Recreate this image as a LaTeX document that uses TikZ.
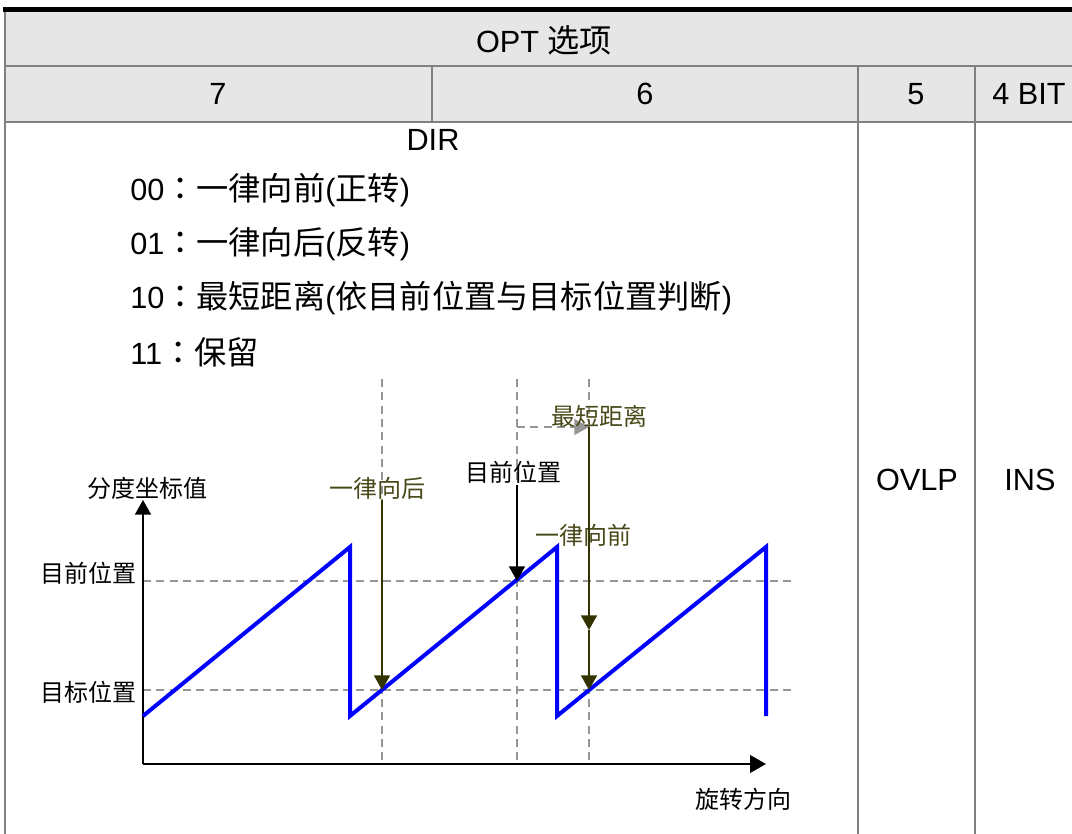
\documentclass[tikz,border=0pt]{standalone}
\usepackage{fontspec}
\setmainfont{Liberation Sans}
\newfontfamily\cjk{Noto Sans CJK SC}
\newfontfamily\cjkb[Scale=1.05]{Noto Sans CJK SC}
\newfontfamily\cjkc[Scale=1.05]{Noto Sans CJK TC}
\newcommand{\fwcolon}{{\cjkc ：}}
\usetikzlibrary{arrows.meta}
\definecolor{hdrgray}{RGB}{230,230,230}
\definecolor{gridgray}{RGB}{128,128,128}
\definecolor{dashgray}{RGB}{150,150,150}
\definecolor{olivetext}{RGB}{72,72,24}
\definecolor{olivearrow}{RGB}{51,51,0}
\definecolor{wave}{RGB}{0,0,255}
\tikzset{
  tabtext/.style={font=\fontsize{23}{27}\selectfont, inner sep=0pt},
  lbl/.style={font=\cjk\fontsize{18}{21}\selectfont, inner sep=0pt},
  olbl/.style={lbl, text=olivetext},
  gridline/.style={draw=gridgray, line width=1.1pt},
  guide/.style={draw=dashgray, line width=1.1pt, dash pattern=on 6pt off 4pt},
  oarrow/.style={draw=olivearrow, line width=1.3pt, -{Triangle[width=12pt,length=11pt]}},
  barrow/.style={draw=black, line width=1.3pt, -{Triangle[width=12pt,length=11pt]}},
}
\begin{document}
\begin{tikzpicture}[x=0.75pt,y=-0.75pt]
\useasboundingbox (0,0) rectangle (1072,834);
% table
\fill[hdrgray] (5,12) rectangle (1072,122);
\draw[gridline] (5,66) -- (1072,66);
\draw[gridline] (5,122) -- (1072,122);
\draw[gridline] (5,12) -- (5,834);
\draw[gridline] (432,66) -- (432,122);
\draw[gridline] (858,66) -- (858,834);
\draw[gridline] (975,66) -- (975,834);
\draw[line width=3.8pt] (3,9.5) -- (1072,9.5);
\node[tabtext] (opt) at (544,40) {OPT {\cjkb 选项}};
\node[tabtext] (b7) at (218,94) {7};
\node[tabtext] (b6) at (645,94) {6};
\node[tabtext] (b5) at (916,94) {5};
\node[tabtext] (b4) at (1029,94) {4 BIT};
\node[tabtext] (dir) at (433,140) {DIR};
\node[tabtext,anchor=west] (l0) at (130,190) {00\fwcolon{\cjkb 一律向前}({\cjkb 正转})};
\node[tabtext,anchor=west] (l1) at (130,244) {01\fwcolon{\cjkb 一律向后}({\cjkb 反转})};
\node[tabtext,anchor=west] (l2) at (130,298) {10\fwcolon{\cjkb 最短距离}({\cjkb 依目前位置与目标位置判断})};
\node[tabtext,anchor=west] (l3) at (130,352) {11\fwcolon{\cjkb 保留}};
\node[tabtext] (ovlp) at (917,480) {OVLP};
\node[tabtext] (ins) at (1030,480) {INS};
% diagram coordinates
\coordinate (O) at (143,764);
\coordinate (Ytip) at (143,500);
\coordinate (Xtip) at (766,764);
% guides
\draw[guide] (143,581) -- (792,581);
\draw[guide] (143,690) -- (792,690);
\draw[guide] (382,379) -- (382,764);
\draw[guide] (517,379) -- (517,764);
\draw[guide] (589,379) -- (589,764);
\coordinate (sA) at (517,427);
\coordinate (sB) at (589,427);
\draw[guide, -{Triangle[width=12pt,length=11pt]}, dashgray] (sA) -- (sB);
% axes
\draw[line width=1.4pt, -{Triangle[width=12pt,length=11pt]}] (O) -- (Ytip);
\draw[line width=2.2pt, -{Triangle[width=13pt,length=12pt]}] (O) -- (Xtip);
% wave
\draw[wave, line width=3pt, line join=miter] (143,716) -- (350,547) -- (350,716) -- (557,547) -- (557,716) -- (766,547) -- (766,716);
% labels
\node[lbl] (yl) at (147,488) {分度坐标值};
\node[lbl, anchor=east] (cur) at (137,573) {目前位置};
\node[lbl, anchor=east] (tgt) at (137,692) {目标位置};
\node[lbl] (xl) at (743,799) {旋转方向};
\node[olbl] (back) at (377,488) {一律向后};
\node[lbl] (curtop) at (513,472) {目前位置};
\node[olbl] (short) at (599,416) {最短距离};
\node[olbl] (fwd) at (583,535) {一律向前};
% arrows
\coordinate (backS) at (382,500);
\coordinate (backE) at (382,690);
\draw[oarrow] (backS) -- (backE);
\coordinate (curS) at (517,485);
\coordinate (curE) at (517,581);
\draw[barrow] (curS) -- (curE);
\coordinate (shE) at (589,630);
\coordinate (fwE) at (589,690);
\draw[oarrow] (sB) -- (shE);
\draw[oarrow] (shE) -- (fwE);
\end{tikzpicture}
\end{document}
